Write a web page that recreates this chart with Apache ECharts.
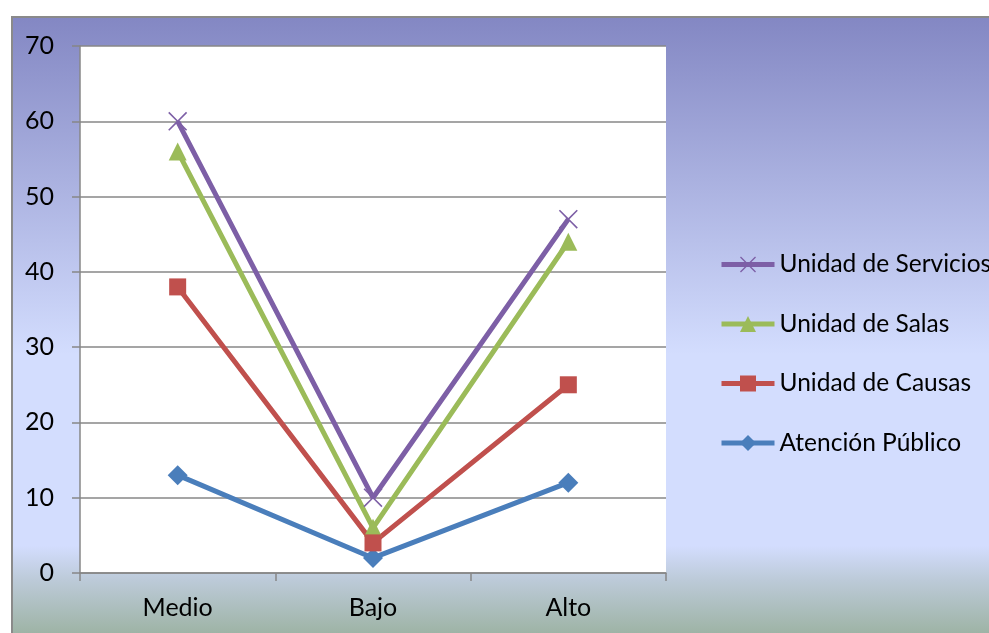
<!DOCTYPE html>
<html>
<head>
<meta charset="utf-8">
<title>Unidades por nivel</title>
<script src="https://cdn.jsdelivr.net/npm/echarts@6/dist/echarts.min.js"></script>
<style>
  html, body { margin: 0; padding: 0; background: #ffffff; }
  #chart { width: 989px; height: 633px; }
</style>
</head>
<body>
<div id="chart"></div>
<script>
// Categories and values per unit
const categories = ['Medio', 'Bajo', 'Alto'];
const atencionPublico = [13, 2, 12];
const unidadCausas = [38, 4, 25];
const unidadSalas = [56, 6, 44];
const unidadServicios = [60, 10, 47];

const yTicks = { min: 0, max: 70, interval: 10 };

const FONT = 'Lato, "Open Sans", sans-serif';
const GRID_COLOR = '#878787';

// X marker drawn as a filled outline
const crossPath = 'path://M0,0.6 L0.6,0 L5,4.4 L9.4,0 L10,0.6 L5.6,5 L10,9.4 L9.4,10 L5,5.6 L0.6,10 L0,9.4 L4.4,5 Z';

const chart = echarts.init(document.getElementById('chart'), null, { renderer: 'canvas' });

function lineSeries(name, data, color, symbol, size) {
  return {
    name: name,
    type: 'line',
    data: data,
    symbol: symbol,
    symbolSize: size,
    showAllSymbol: true,
    lineStyle: { color: color, width: 5 },
    itemStyle: { color: color, borderWidth: 0 },
    emphasis: { disabled: true },
    animation: false
  };
}

chart.setOption({
  animation: false,
  graphic: [{
    type: 'rect',
    left: 11, top: 16,
    shape: { width: 990, height: 625 },
    style: {
      stroke: '#8a8a8a',
      lineWidth: 2,
      fill: new echarts.graphic.LinearGradient(0, 0, 0, 1, [
        { offset: 0, color: '#8387C3' },
        { offset: 0.54, color: '#D3DDFE' },
        { offset: 0.845, color: '#D3DDFE' },
        { offset: 0.9, color: '#BCCAD8' },
        { offset: 0.99, color: '#9CB2A2' },
        { offset: 1, color: '#9AB0A0' }
      ])
    },
    z: -10,
    silent: true
  }],
  grid: {
    left: 80, top: 46, right: 323, bottom: 60,
    show: true,
    backgroundColor: '#ffffff',
    borderWidth: 0
  },
  legend: {
    orient: 'vertical',
    left: 714, top: 247,
    itemWidth: 53, itemHeight: 20,
    itemGap: 34.5,
    lineStyle: { width: 5 },
    data: ['Unidad de Servicios', 'Unidad de Salas', 'Unidad de Causas', 'Atención Público'],
    textStyle: { fontFamily: FONT, fontSize: 24.5, color: '#000000' },
    selectedMode: false
  },
  xAxis: {
    type: 'category',
    data: categories,
    boundaryGap: true,
    axisLine: { show: true, lineStyle: { color: GRID_COLOR, width: 1.5 } },
    axisTick: { show: true, length: 8, alignWithLabel: false, lineStyle: { color: GRID_COLOR, width: 1.5 } },
    axisLabel: { margin: 22, fontFamily: FONT, fontSize: 25, color: '#000000' },
    splitLine: { show: false }
  },
  yAxis: {
    type: 'value',
    min: yTicks.min, max: yTicks.max, interval: yTicks.interval,
    axisLine: { show: true, lineStyle: { color: GRID_COLOR, width: 1.5 } },
    axisTick: { show: true, length: 8, lineStyle: { color: GRID_COLOR, width: 1.5 } },
    axisLabel: { margin: 26, fontFamily: FONT, fontSize: 25, color: '#000000' },
    splitLine: { show: true, lineStyle: { color: GRID_COLOR, width: 1.5 } }
  },
  series: [
    lineSeries('Atención Público', atencionPublico, '#4A7EBB', 'diamond', 20),
    lineSeries('Unidad de Servicios', unidadServicios, '#7D5FA6', crossPath, 19),
    lineSeries('Unidad de Salas', unidadSalas, '#9BBB59', 'triangle', 18),
    lineSeries('Unidad de Causas', unidadCausas, '#C0504D', 'rect', 17)
  ]
});
</script>
</body>
</html>
